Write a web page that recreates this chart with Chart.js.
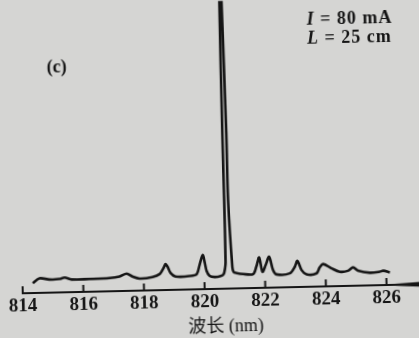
<!DOCTYPE html>
<html>
<head>
<meta charset="utf-8">
<script src="https://cdn.jsdelivr.net/npm/chart.js@4.4.1/dist/chart.umd.min.js"></script>
<style>
  html, body { margin: 0; padding: 0; background: #d5d5d3; overflow: hidden; }
  #wrap {
    position: relative; width: 419px; height: 338px;
    transform: rotate(-1.3deg); transform-origin: 50% 50%;
  }
  .note {
    position: absolute; font-family: "Liberation Serif", serif; font-weight: bold;
    font-size: 18px; color: #151515; white-space: nowrap; line-height: 1;
  }
</style>
</head>
<body>
<div id="wrap">
  <canvas id="spectrum"></canvas>
  <div class="note" style="left:49px; top:54px;">(c)</div>
  <div class="note" style="left:310px; top:12px; letter-spacing:1px;"><i>I</i> = 80 mA</div>
  <div class="note" style="left:310px; top:31px; letter-spacing:1px;"><i>L</i> = 25 cm</div>
</div>
<script>
// wavelength (nm) and relative intensity
const wavelength = [814.34, 814.56, 814.89, 815.22, 815.39, 815.62, 816.21, 816.87, 817.20, 817.44,
  817.63, 817.86, 818.29, 818.53, 818.66, 818.73, 818.80, 818.89, 819.05, 819.52,
  819.75, 819.85, 819.96, 820.02, 820.08, 820.18, 820.34, 820.54, 820.64, 820.69,
  820.71, 820.71, 820.70, 820.70, 820.735, 820.77, 820.83, 820.84, 820.93, 820.97,
  821.07, 821.28, 821.61, 821.72, 821.82, 821.92, 822.03, 822.15, 822.27, 822.38,
  822.82, 822.99, 823.08, 823.21, 823.37, 823.70, 823.81, 823.93, 824.20, 824.47,
  824.74, 824.91, 825.07, 825.46, 825.79, 825.90, 826.12];
const intensity = [9.8, 14.6, 13.2, 13.5, 14.8, 12.7, 12.8, 13.3, 14.6, 17.4,
  14.3, 12.1, 13.3, 16.2, 22.1, 26.0, 23.0, 16.9, 13.3, 13.5,
  15.3, 24.3, 34.2, 27.2, 18.1, 13.0, 11.9, 12.8, 14.7, 20.7,
  26.7, 88.7, 155.8, 288.8, 330, 288.8, 155.7, 88.6, 21.5, 16.5,
  15.4, 14.3, 14.0, 21.3, 30.6, 16.1, 22.8, 31.0, 17.6, 13.2,
  13.9, 20.4, 26.3, 17.0, 12.5, 13.3, 19.2, 22.5, 18.0, 14.4,
  15.2, 18.5, 15.0, 12.7, 13.5, 14.4, 12.6];
const xTicks = [814, 816, 818, 820, 822, 824, 826];
const xTitle = '  波长 (nm)';

const ink = '#151515';

// ticks point up into the plot, axis ends in an arrow
const axisMarks = {
  id: 'axisMarks',
  afterDraw(chart) {
    const ctx = chart.ctx;
    const x = chart.scales.x;
    const y0 = x.top;
    ctx.save();
    ctx.strokeStyle = ink;
    ctx.lineWidth = 2;
    xTicks.forEach(v => {
      const px = x.getPixelForValue(v);
      ctx.beginPath();
      ctx.moveTo(px, y0 + 1);
      ctx.lineTo(px, y0 - 7);
      ctx.stroke();
    });
    ctx.fillStyle = ink;
    ctx.beginPath();
    ctx.moveTo(x.right - 24, y0 - 1);
    ctx.lineTo(x.right + 3, y0 - 2.5);
    ctx.lineTo(x.right + 3, y0 + 2.5);
    ctx.lineTo(x.right - 24, y0 + 1);
    ctx.fill();
    ctx.restore();
  }
};

new Chart(document.getElementById('spectrum'), {
  type: 'line',
  data: {
    datasets: [{
      data: wavelength.map((w, i) => ({x: w, y: intensity[i]})),
      borderColor: ink,
      borderWidth: 2.6,
      pointRadius: 0,
      tension: 0.3,
      fill: false
    }]
  },
  options: {
    responsive: true,
    maintainAspectRatio: false,
    animation: false,
    layout: {padding: {left: 20, right: 3, top: 0, bottom: 0}},
    plugins: {legend: {display: false}, tooltip: {enabled: false}},
    scales: {
      x: {
        type: 'linear',
        min: 814,
        max: 827.06,
        afterBuildTicks: scale => { scale.ticks = xTicks.map(v => ({value: v})); },
        afterFit: scale => { scale.height = 49; },
        grid: {display: false, drawTicks: false},
        border: {display: true, color: ink, width: 2},
        ticks: {
          padding: 2,
          color: ink,
          maxRotation: 0,
          font: {family: '"Liberation Serif", serif', size: 19, weight: 'bold'}
        },
        title: {
          display: true,
          text: xTitle,
          color: ink,
          padding: {top: 0, bottom: 0},
          font: {family: '"Liberation Serif", "Noto Sans CJK SC", serif', size: 18}
        }
      },
      y: {
        display: false,
        min: 0,
        max: 289
      }
    }
  },
  plugins: [axisMarks]
});
</script>
</body>
</html>
